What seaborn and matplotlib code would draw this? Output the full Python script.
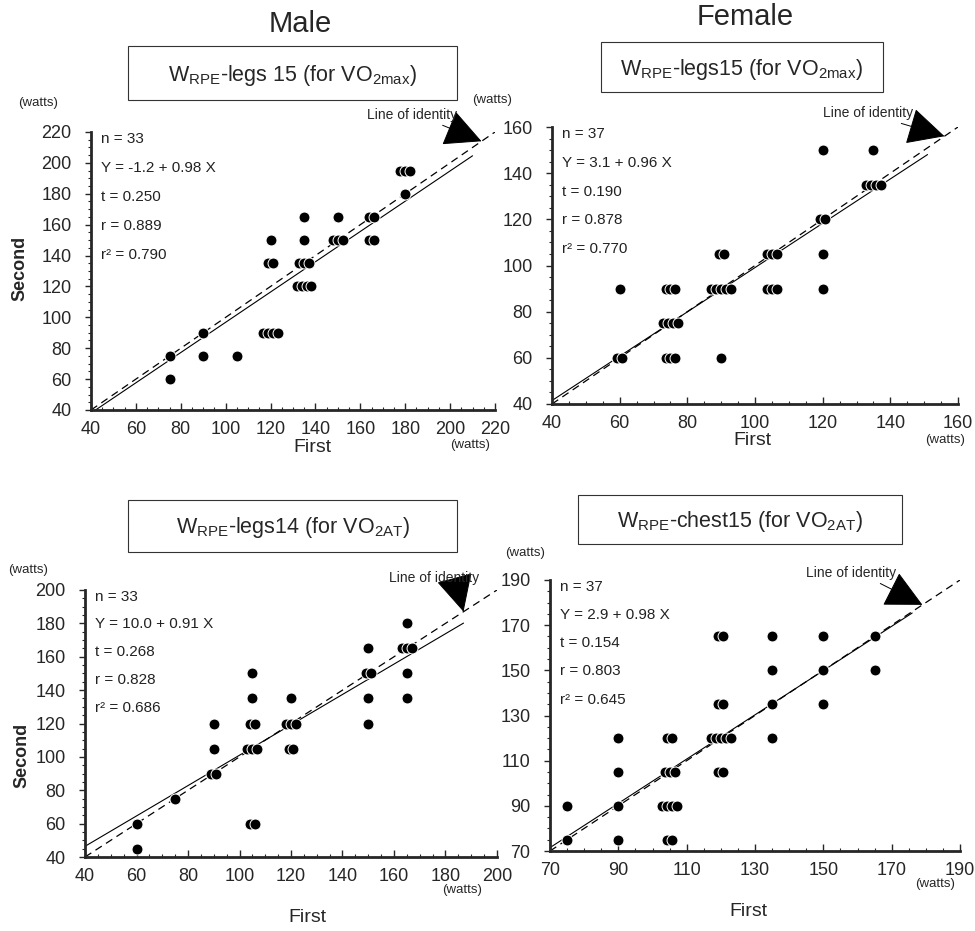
import numpy as np
import pandas as pd
import matplotlib
matplotlib.use("Agg")
import matplotlib.pyplot as plt
from matplotlib.patches import Rectangle
from matplotlib.ticker import FixedLocator, MultipleLocator
import seaborn as sns

# %% data (watts); count = overlapping subjects at that spot
# Male, WRPE-legs15 (for VO2max)
m_max_first  = [75, 75, 90, 90, 105, 120, 120, 135, 135, 120, 135, 150, 165, 135, 150, 165, 180, 180]
m_max_second = [75, 60, 90, 75, 75, 90, 135, 135, 120, 150, 150, 150, 150, 165, 165, 165, 180, 195]
m_max_count  = [1, 1, 1, 1, 1, 4, 2, 3, 4, 1, 1, 3, 2, 1, 1, 2, 1, 3]

# Female, WRPE-legs15 (for VO2max)
f_max_first  = [60, 75, 90, 105, 120, 90, 105, 120, 120, 135, 120, 135, 75, 60, 75, 90]
f_max_second = [90, 90, 90, 90, 90, 105, 105, 105, 120, 135, 150, 150, 75, 60, 60, 60]
f_max_count  = [1, 3, 5, 3, 1, 2, 3, 1, 2, 4, 1, 1, 4, 2, 3, 1]

# Male, WRPE-legs14 (for VO2AT)
m_at_first  = [60, 60, 75, 90, 90, 90, 105, 105, 105, 105, 105, 120, 120, 120, 150, 150, 150, 150, 165, 165, 165, 165]
m_at_second = [60, 45, 75, 90, 105, 120, 105, 120, 135, 150, 60, 135, 120, 105, 165, 150, 135, 120, 180, 165, 150, 135]
m_at_count  = [1, 1, 1, 2, 1, 1, 3, 2, 1, 1, 2, 1, 3, 2, 1, 2, 1, 1, 1, 3, 1, 1]

# Female, WRPE-chest15 (for VO2AT)
f_at_first  = [75, 75, 90, 90, 90, 90, 105, 105, 105, 105, 120, 120, 120, 120, 135, 135, 135, 135, 150, 150, 150, 165, 165]
f_at_second = [75, 90, 75, 90, 105, 120, 75, 90, 105, 120, 120, 105, 135, 165, 165, 150, 135, 120, 165, 150, 135, 165, 150]
f_at_count  = [1, 1, 1, 1, 1, 1, 2, 4, 3, 2, 5, 2, 2, 2, 1, 1, 1, 1, 1, 1, 1, 1, 1]

# regression (intercept, slope) and printed stats
reg_coef = [(-1.2, 0.98), (3.1, 0.96), (10.0, 0.91), (2.9, 0.98)]
stat_n  = [33, 37, 33, 37]
stat_t  = ["0.250", "0.190", "0.268", "0.154"]
stat_r  = ["0.889", "0.878", "0.828", "0.803"]
stat_r2 = ["0.790", "0.770", "0.686", "0.645"]

box_titles = [
    r"W$_\mathregular{RPE}$-legs 15 (for VO$_\mathregular{2max}$)",
    r"W$_\mathregular{RPE}$-legs15 (for VO$_\mathregular{2max}$)",
    r"W$_\mathregular{RPE}$-legs14 (for VO$_\mathregular{2AT}$)",
    r"W$_\mathregular{RPE}$-chest15 (for VO$_\mathregular{2AT}$)",
]

# %% layout (pixels of the 975x931 picture)
W, H = 975, 931
sns.set_style("ticks")
plt.rcParams['font.family'] = ['Liberation Sans', 'DejaVu Sans']
plt.rcParams['mathtext.fontset'] = 'custom'
plt.rcParams['mathtext.rm'] = 'Liberation Sans'

fig = plt.figure(figsize=(W / 100, H / 100), dpi=100)

def px_axes(l, t, r, b):
    return fig.add_axes([l / W, 1 - b / H, (r - l) / W, (b - t) / H])

def ftext(x, y, s, **kw):
    fig.text(x / W, 1 - y / H, s, **kw)

panels = [
    dict(box=(91, 132, 495, 410), lim=(40, 220), data=(m_max_first, m_max_second, m_max_count),
         reg_hi=210, tip=214, lbl=(163, 231), title_box=(128, 46, 457, 100)),
    dict(box=(552, 127, 958, 404), lim=(40, 160), data=(f_max_first, f_max_second, f_max_count),
         reg_hi=151, tip=156, lbl=(120, 166), title_box=(601, 42, 883, 92)),
    dict(box=(85, 590, 497, 857), lim=(40, 200), data=(m_at_first, m_at_second, m_at_count),
         reg_hi=187, tip=187, lbl=(158, 207), title_box=(128, 500, 457, 552)),
    dict(box=(550, 580, 960, 851), lim=(70, 190), data=(f_at_first, f_at_second, f_at_count),
         reg_hi=176, tip=179, lbl=(145, 193), title_box=(578, 495, 902, 544)),
]

for i, p in enumerate(panels):
    ax = px_axes(*p["box"])
    lo, hi = p["lim"]
    fx, sy, cnt = p["data"]

    # expand overlapping subjects into slightly shifted dots
    step = 0.012 * (hi - lo)
    rows = []
    for x, y, k in zip(fx, sy, cnt):
        for j in range(k):
            rows.append((x + (j - (k - 1) / 2) * step, y))
    pts = pd.DataFrame(rows, columns=["First", "Second"])

    a, b = reg_coef[i]
    xs = np.array([lo, p["reg_hi"]])
    sns.lineplot(x=xs, y=a + b * xs, ax=ax, color="black", lw=0.8)
    xi = np.array([lo, hi])
    sns.lineplot(x=xi, y=xi, ax=ax, color="black", lw=0.9)
    ax.lines[-1].set_dashes((6, 4))

    sns.scatterplot(data=pts, x="First", y="Second", ax=ax, s=62, color="black",
                    edgecolor="white", linewidth=0.7, zorder=3)

    ax.set_xlim(lo, hi)
    ax.set_ylim(lo, hi)
    ticks = np.arange(lo, hi + 1, 20)
    ax.xaxis.set_major_locator(FixedLocator(ticks))
    ax.yaxis.set_major_locator(FixedLocator(ticks))
    ax.xaxis.set_minor_locator(MultipleLocator(5))
    ax.yaxis.set_minor_locator(MultipleLocator(5))
    ax.set_xlabel("")
    ax.set_ylabel("")
    sns.despine(ax=ax)
    for sp in ("left", "bottom"):
        ax.spines[sp].set_linewidth(2)
    ax.tick_params(axis="y", which="major", direction="out", length=4, width=1, pad=10, labelsize=13)
    ax.tick_params(axis="y", which="minor", direction="out", length=2, width=0.8)
    ax.tick_params(axis="x", which="major", direction="in", length=5, width=1, pad=8, labelsize=13)
    ax.tick_params(axis="x", which="minor", direction="in", length=2.5, width=0.8)

    # stats block
    stats = [f"n = {stat_n[i]}",
             f"Y = {a:.1f} + {b:.2f} X",
             f"t = {stat_t[i]}",
             f"r = {stat_r[i]}",
             f"r² = {stat_r2[i]}"]
    for j, s in enumerate(stats):
        ax.text(0.025, 0.975 - j * 0.104, s, transform=ax.transAxes, fontsize=11,
                color="#222222", va="center", ha="left")

    # line of identity pointer
    ax.annotate("Line of identity", xy=(p["tip"], p["tip"]), xytext=p["lbl"],
                fontsize=10, ha="left", va="center", annotation_clip=False,
                arrowprops=dict(arrowstyle="-|>,head_length=1.0,head_width=0.5",
                                mutation_scale=24, color="black", lw=0.7,
                                shrinkA=0, shrinkB=0, relpos=(0.75, 0.0)))

    # boxed sub-title
    l, t, r, bt = p["title_box"]
    fig.add_artist(Rectangle((l / W, 1 - bt / H), (r - l) / W, (bt - t) / H,
                             transform=fig.transFigure, fill=False, lw=0.8, ec="#333333"))
    ftext((l + r) / 2, (t + bt) / 2 + 2, box_titles[i], fontsize=15.5, ha="center", va="center")

# column headings
ftext(300, 24, "Male", fontsize=21, ha="center", va="center")
ftext(745, 17, "Female", fontsize=21, ha="center", va="center")

# axis captions
for x, y in [(38, 103), (492, 100), (28, 570), (525, 553)]:
    ftext(x, y, "(watts)", fontsize=9.5, ha="center", va="center")
for x, y in [(470, 445), (945, 440), (462, 890), (935, 884)]:
    ftext(x, y, "(watts)", fontsize=9.5, ha="center", va="center")
for x, y in [(312, 448), (752, 440), (307, 918), (748, 912)]:
    ftext(x, y, "First", fontsize=14, ha="center", va="center")
for x, y in [(20, 268), (22, 755)]:
    ftext(x, y, "Second", fontsize=13, fontweight="bold", rotation=90, ha="center", va="center")

fig.savefig("out.png", dpi=100)
